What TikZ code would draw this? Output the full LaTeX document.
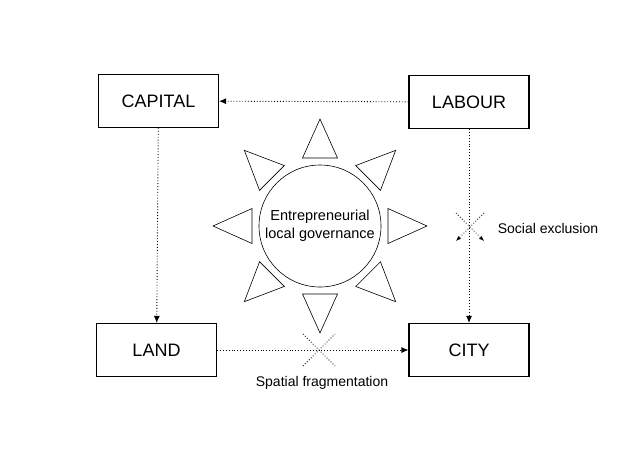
\documentclass[tikz,border=0pt]{standalone}
\usepackage{fontspec}
\setmainfont{Liberation Sans}
\usetikzlibrary{arrows.meta,calc,positioning}

\begin{document}
\begin{tikzpicture}[x=1pt,y=-1pt,
		factor/.style={draw,line width=1.1pt,minimum width=120pt,minimum height=53pt,inner sep=0pt,font=\fontsize{18}{21}\selectfont},
		flow/.style={dotted,line width=0.9pt,-{Latex[length=7pt,width=6pt]}},
		block/.style={dotted,line width=0.8pt},
		ray/.style={line width=0.6pt},
		note/.style={font=\fontsize{14}{17}\selectfont}]
		\useasboundingbox (0,0) rectangle (639,451);
		\node[factor] (capital) at (158.5,101) {CAPITAL};
		\node[factor] (labour) at (469,102) {LABOUR};
		\node[factor] (land) at (156.5,350) {LAND};
		\node[factor] (city) at (469,350) {CITY};
		\node[draw,circle,line width=0.6pt,minimum size=122pt,inner sep=0pt,align=center,font=\fontsize{14.5}{18}\selectfont] (gov) at (320,226) {Entrepreneurial\\local governance};
		% rays round the circle
		\foreach \a in {0,45,...,315}
			\draw[ray] ($(gov.center)+(\a:68)+(\a+90:17.5)$) -- ($(gov.center)+(\a:107)$) -- ($(gov.center)+(\a:68)+(\a-90:17.5)$) -- cycle;
		\draw[flow] (labour) -- (capital);
		\draw[flow] (capital) -- (land);
		\draw[flow] (land) -- (city);
		\draw[flow] (labour) -- (city);
		% crosses
		\coordinate (f1) at (303,334); \coordinate (f2) at (335,366);
		\coordinate (f3) at (303,366); \coordinate (f4) at (335,334);
		\draw[block] (f1) -- (f2) (f3) -- (f4);
		\coordinate (s1) at (456,213); \coordinate (s2) at (484,241);
		\coordinate (s3) at (484,213); \coordinate (s4) at (456,241);
		\draw[block,-{Latex[length=5pt,width=4pt]}] (s1) -- (s2);
		\draw[block,-{Latex[length=5pt,width=4pt]}] (s3) -- (s4);
		\node[note] (excl) at (548,228) {Social exclusion};
		\node[note] (frag) at (322,383) {Spatial fragmentation};
	\end{tikzpicture}
\end{document}
